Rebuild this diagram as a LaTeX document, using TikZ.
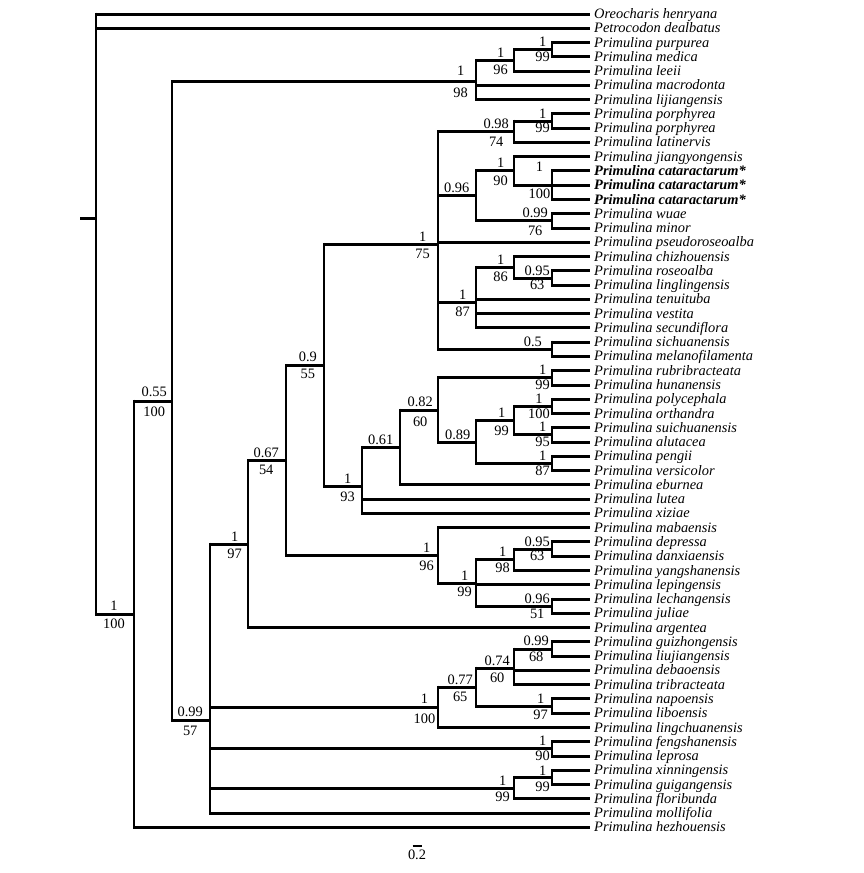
\documentclass[tikz,border=0pt]{standalone}
\usepackage{fontspec}
\setmainfont{Liberation Serif}
\newcommand\supfont{\fontsize{14.4}{14}\selectfont}
\tikzset{
  hb/.style={line width=3pt},
  vb/.style={line width=2.2pt, shorten <=-1.5pt, shorten >=-1.5pt},
  sup/.style={font=\supfont, inner sep=0pt, anchor=base},
  tip/.style={font=\supfont\itshape, inner sep=0pt, anchor=base west, xshift=4pt, yshift=-4.5pt},
}
% #1 right gap, #2 raise of top baseline, #3 distance between baselines
\NewDocumentCommand\bs{O{6} O{3} O{17.5} m m m}{%
  \if\relax\detokenize{#6}\relax
    \node[sup, anchor=base east, xshift=-#1pt, yshift=#2pt] (#4l) at (#4) {#5};
  \else
    \node[sup, anchor=base east, xshift=-#1pt, yshift=#2pt] (#4l) at (#4)
      {\renewcommand\arraystretch{0.5}%
       \begin{tabular}[t]{@{}c@{}}#5\\[\dimexpr #3pt-11.8pt\relax]#6\end{tabular}};
  \fi}
\newcommand\bsq{\bs[2][3][15]}
\newcommand\kids[2]{\foreach \c in {#2} {\draw[hb] (#1 |- \c) -- (\c);}}
\newcommand\vspan[3]{\draw[vb] (#1 |- #2) -- (#1 |- #3);}
\begin{document}
\begin{tikzpicture}[x=1pt,y=-1pt]
\useasboundingbox (0,0) rectangle (863,873);
% tips
\foreach \i/\nm in {
0/Oreocharis henryana, 1/Petrocodon dealbatus, 2/Primulina purpurea, 3/Primulina medica,
4/Primulina leeii, 5/Primulina macrodonta, 6/Primulina lijiangensis, 7/Primulina porphyrea,
8/Primulina porphyrea, 9/Primulina latinervis, 10/Primulina jiangyongensis,
11/\textbf{Primulina cataractarum*}, 12/\textbf{Primulina cataractarum*}, 13/\textbf{Primulina cataractarum*},
14/Primulina wuae, 15/Primulina minor, 16/Primulina pseudoroseoalba, 17/Primulina chizhouensis,
18/Primulina roseoalba, 19/Primulina linglingensis, 20/Primulina tenuituba, 21/Primulina vestita,
22/Primulina secundiflora, 23/Primulina sichuanensis, 24/Primulina melanofilamenta,
25/Primulina rubribracteata, 26/Primulina hunanensis, 27/Primulina polycephala,
28/Primulina orthandra, 29/Primulina suichuanensis, 30/Primulina alutacea, 31/Primulina pengii,
32/Primulina versicolor, 33/Primulina eburnea, 34/Primulina lutea, 35/Primulina xiziae,
36/Primulina mabaensis, 37/Primulina depressa, 38/Primulina danxiaensis, 39/Primulina yangshanensis,
40/Primulina lepingensis, 41/Primulina lechangensis, 42/Primulina juliae, 43/Primulina argentea,
44/Primulina guizhongensis, 45/Primulina liujiangensis, 46/Primulina debaoensis,
47/Primulina tribracteata, 48/Primulina napoensis, 49/Primulina liboensis,
50/Primulina lingchuanensis, 51/Primulina fengshanensis, 52/Primulina leprosa,
53/Primulina xinningensis, 54/Primulina guigangensis, 55/Primulina floribunda,
56/Primulina mollifolia, 57/Primulina hezhouensis}
{\coordinate (e\i) at (590,{14+14.27*\i}); \node[tip] (n\i) at (e\i) {\nm};}
% internal nodes
\coordinate (st) at (80,218.83);
\coordinate (R0) at (96,218.83);
\coordinate (B) at (134,614.22);
\coordinate (C) at (172,401.05);
\coordinate (E) at (476,81.78);
\coordinate (F) at (514,60.38);
\coordinate (G) at (552,49.68);
\coordinate (D) at (210,720.31);
\coordinate (Y) at (248,544.1);
\coordinate (S) at (286,460.58);
\coordinate (I) at (324,365.49);
\coordinate (H) at (438,244.28);
\coordinate (PB) at (514,131.73);
\coordinate (PA) at (552,121.03);
\coordinate (CC) at (476,195.94);
\coordinate (CB) at (514,170.97);
\coordinate (CA) at (552,185.24);
\coordinate (WA) at (552,220.92);
\coordinate (RC) at (476,302.08);
\coordinate (RB) at (514,267.29);
\coordinate (RA) at (552,278.0);
\coordinate (SA) at (552,349.35);
\coordinate (J) at (362,486.69);
\coordinate (K) at (400,447.45);
\coordinate (L) at (438,410.0);
\coordinate (M) at (552,377.89);
\coordinate (N) at (476,442.1);
\coordinate (O) at (514,420.7);
\coordinate (Q) at (552,406.43);
\coordinate (R) at (552,434.97);
\coordinate (P) at (552,463.51);
\coordinate (T) at (438,555.67);
\coordinate (U) at (476,583.61);
\coordinate (V) at (514,559.83);
\coordinate (X) at (552,549.13);
\coordinate (W) at (552,606.21);
\coordinate (Z) at (438,707.29);
\coordinate (AA) at (476,687.07);
\coordinate (AB) at (514,668.04);
\coordinate (AD) at (552,649.02);
\coordinate (AC) at (552,706.1);
\coordinate (AE) at (552,748.91);
\coordinate (AF) at (514,788.15);
\coordinate (AG) at (552,777.45);
% branches
\draw[hb] (st) -- (R0);
\vspan{R0}{e0}{B}\kids{R0}{e0,e1,B}
\vspan{B}{C}{e57}\kids{B}{C,e57}
\vspan{C}{E}{D}\kids{C}{E,D}
\vspan{E}{F}{e6}\kids{E}{F,e5,e6}
\vspan{F}{G}{e4}\kids{F}{G,e4}
\vspan{G}{e2}{e3}\kids{G}{e2,e3}
\vspan{D}{Y}{e56}\kids{D}{Y,Z,AE,AF,e56}
\vspan{Y}{S}{e43}\kids{Y}{S,e43}
\vspan{S}{I}{T}\kids{S}{I,T}
\vspan{I}{H}{J}\kids{I}{H,J}
\vspan{H}{PB}{SA}\kids{H}{PB,CC,e16,RC,SA}
\vspan{PB}{PA}{e9}\kids{PB}{PA,e9}
\vspan{PA}{e7}{e8}\kids{PA}{e7,e8}
\vspan{CC}{CB}{WA}\kids{CC}{CB,WA}
\vspan{CB}{e10}{CA}\kids{CB}{e10,CA}
\vspan{CA}{e11}{e13}\kids{CA}{e11,e12,e13}
\vspan{WA}{e14}{e15}\kids{WA}{e14,e15}
\vspan{RC}{RB}{e22}\kids{RC}{RB,e20,e21,e22}
\vspan{RB}{e17}{RA}\kids{RB}{e17,RA}
\vspan{RA}{e18}{e19}\kids{RA}{e18,e19}
\vspan{SA}{e23}{e24}\kids{SA}{e23,e24}
\vspan{J}{K}{e35}\kids{J}{K,e34,e35}
\vspan{K}{L}{e33}\kids{K}{L,e33}
\vspan{L}{M}{N}\kids{L}{M,N}
\vspan{M}{e25}{e26}\kids{M}{e25,e26}
\vspan{N}{O}{P}\kids{N}{O,P}
\vspan{O}{Q}{R}\kids{O}{Q,R}
\vspan{Q}{e27}{e28}\kids{Q}{e27,e28}
\vspan{R}{e29}{e30}\kids{R}{e29,e30}
\vspan{P}{e31}{e32}\kids{P}{e31,e32}
\vspan{T}{e36}{U}\kids{T}{e36,U}
\vspan{U}{V}{W}\kids{U}{V,e40,W}
\vspan{V}{X}{e39}\kids{V}{X,e39}
\vspan{X}{e37}{e38}\kids{X}{e37,e38}
\vspan{W}{e41}{e42}\kids{W}{e41,e42}
\vspan{Z}{AA}{e50}\kids{Z}{AA,e50}
\vspan{AA}{AB}{AC}\kids{AA}{AB,AC}
\vspan{AB}{AD}{e47}\kids{AB}{AD,e46,e47}
\vspan{AD}{e44}{e45}\kids{AD}{e44,e45}
\vspan{AC}{e48}{e49}\kids{AC}{e48,e49}
\vspan{AE}{e51}{e52}\kids{AE}{e51,e52}
\vspan{AF}{AG}{e55}\kids{AF}{AG,e55}
\vspan{AG}{e53}{e54}\kids{AG}{e53,e54}
% support labels
\bs[9][3.5]{B}{1}{100}
\bs[5][4.5][20.5]{C}{0.55}{100}
\bs[7][3.5][18.5]{D}{0.99}{57}
\bs{Y}{1}{97}
\bs[7]{S}{0.67}{54}
\bs[7][4]{I}{0.9}{55}
\bs[8]{H}{1}{75}
\bs[7]{J}{1}{93}
\bs[6.5][3]{K}{0.61}{}
\bs[5][4][21]{L}{0.82}{60}
\bsq{M}{1}{99}
\bs[5.5][3]{N}{0.89}{}
\bs[5]{O}{1}{99}
\bsq{Q}{1}{100}
\bsq{R}{1}{95}
\bsq{P}{1}{87}
\bs[8][6.5][22]{E}{1}{98}
\bs[6]{F}{1}{96}
\bsq{G}{1}{99}
\bs[5]{PB}{0.98}{74}
\bsq{PA}{1}{99}
\bs[6.5][3]{CC}{0.96}{}
\bs[6]{CB}{1}{90}
\bs[1.5][13.5][26.5]{CA}{1}{100}
\bs[4]{WA}{0.99}{76}
\bs[6]{RC}{1}{87}
\bs[6]{RB}{1}{86}
\bs[2][3][15]{RA}{0.95}{63}
\bs[10][3]{SA}{0.5}{}
\bs[4]{T}{1}{96}
\bs[4][3][16.5]{U}{1}{99}
\bs[4][3][16]{V}{1}{98}
\bsq{X}{0.95}{63}
\bsq{W}{0.96}{51}
\bs[2.5][3.5][19.5]{Z}{1}{100}
\bs[3][3][18]{AA}{0.77}{65}
\bs[4][3][17.5]{AB}{0.74}{60}
\bs[3][3.3][16]{AD}{0.99}{68}
\bs[4][3][16.5]{AC}{1}{97}
\bs[2][3][14.5]{AE}{1}{90}
\bs[4][3][17]{AF}{1}{99}
\bs[2][1.5][15.5]{AG}{1}{99}
% scale bar
\coordinate (sb1) at (412.5,846);
\coordinate (sb2) at (421.5,846);
\draw[line width=2.5pt] (sb1) -- (sb2);
\node[sup] (sbl) at (417,859) {0.2};
\end{tikzpicture}
\end{document}
